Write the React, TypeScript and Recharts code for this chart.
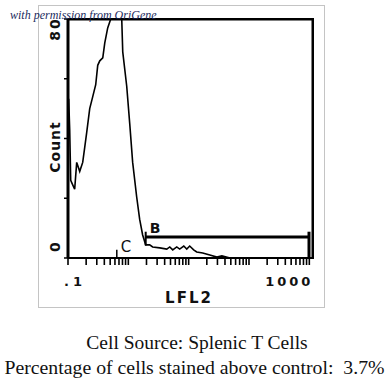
import React from 'react';
import { LineChart, Line, XAxis, YAxis, ReferenceLine } from 'recharts';

// LFL2 channel value (log scale) and event count of the histogram
const lfl2 = [0.1, 0.1027, 0.1067, 0.1109, 0.1197, 0.129, 0.1394, 0.1564, 0.1753, 0.1893, 0.204, 0.2291, 0.2571, 0.288, 0.311, 0.3362, 0.377, 0.407, 0.455, 0.511, 0.7776, 0.808, 0.9405, 1.055, 1.18, 1.374, 1.54, 1.727, 1.94, 2.26, 2.53, 3.32, 4.34, 4.86, 5.45, 6.35, 7.1, 8.3, 9.3, 10.4, 12.1, 13.6, 17.1, 22.4, 29.4, 35.6, 48.4, 1000];
const counts = [53, 53, 43, 26, 24.5, 23, 32, 29, 32, 37, 42, 50, 54, 58, 64.5, 66, 67, 72, 77, 80, 80, 69, 57.5, 45, 32, 20.5, 13, 7.7, 4.4, 4.4, 3.7, 3.4, 3, 3.7, 2.7, 3.7, 3, 4, 3, 4, 2.7, 2, 1.7, 1, 0.3, 0.7, 0, 0];

// Marker gates
const gateBStart = 1.94;
const gateBEnd = 988;
const gateBLevel = 7.06;
const gateC = 0.644;

// Axis ranges and ticks
const xMin = 0.1;
const xMax = 1151;
const yMax = 80;
const xTicks = [0.1, 0.2, 0.3, 0.4, 0.5, 0.6, 0.7, 0.8, 0.9, 1, 2, 3, 4, 5, 6, 7, 8, 9, 10, 20, 30, 40, 50, 60, 70, 80, 90, 100, 200, 300, 400, 500, 600, 700, 800, 900, 1000];
const xTickLabels: Record<string, string> = { '0.1': '.1', '1000': '1000' };
const yTicks = [0, 20, 40, 60, 80];
const yTickLabels: Record<string, string> = { '0': '0', '80': '80' };

const data = lfl2.map((x, i) => ({ x, count: counts[i] }));
const gateBData = [
  { x: gateBStart, count: gateBLevel },
  { x: gateBEnd, count: gateBLevel },
];
const frameData = [
  { x: xMin, count: yMax },
  { x: xMax, count: yMax },
  { x: xMax, count: 0 },
];

const labelFont = 'DejaVu Sans, Verdana, sans-serif';

const XTick = (props: any) => {
  const { x, y, payload } = props;
  const key = String(payload.value);
  const label = xTickLabels[key];
  return (
    <g>
      <line x1={x} x2={x} y1={y} y2={y + 7} stroke="#000" strokeWidth={1.6} />
      {label && (
        <text
          x={key === '1000' ? x + 4 : x - 4}
          y={y + 28}
          textAnchor={key === '1000' ? 'end' : 'start'}
          fontFamily={labelFont}
          fontWeight="bold"
          fontSize={13}
          letterSpacing={key === '1000' ? 3 : 4}
          fill="#111"
        >
          {label}
        </text>
      )}
    </g>
  );
};

const YTick = (props: any) => {
  const { y, payload } = props;
  const key = String(payload.value);
  const label = yTickLabels[key];
  const cy = key === '80' ? y + 10 : y - 12;
  return (
    <g>
      <line x1={64} x2={68} y1={y} y2={y} stroke="#000" strokeWidth={1.5} />
      {label && (
        <text
          x={60}
          y={cy}
          transform={`rotate(-90 60 ${cy})`}
          textAnchor="middle"
          fontFamily={labelFont}
          fontWeight="bold"
          fontSize={14}
          letterSpacing={2}
          fill="#111"
        >
          {label}
        </text>
      )}
    </g>
  );
};

export default function App() {
  return (
    <div
      style={{
        position: 'absolute',
        left: 0,
        top: 0,
        width: 391,
        height: 384,
        background: '#fff',
        overflow: 'hidden',
      }}
    >
      <div
        style={{
          position: 'absolute',
          left: 38,
          top: 5,
          width: 287,
          height: 303,
          border: '1px solid #c4c4c4',
          boxSizing: 'border-box',
        }}
      />
      <div style={{ position: 'absolute', left: 0, top: 0 }}>
        <LineChart
          width={391}
          height={310}
          data={data}
          margin={{ top: 19, right: 78, bottom: 22, left: 38 }}
        >
          <XAxis
            dataKey="x"
            type="number"
            scale="log"
            domain={[xMin, xMax]}
            allowDataOverflow
            ticks={xTicks}
            interval={0}
            tick={<XTick />}
            tickLine={false}
            tickSize={0}
            tickMargin={0}
            height={30}
            axisLine={{ stroke: '#000', strokeWidth: 2 }}
          />
          <YAxis
            type="number"
            domain={[0, yMax]}
            allowDataOverflow
            ticks={yTicks}
            interval={0}
            tick={<YTick />}
            tickLine={false}
            tickSize={0}
            tickMargin={0}
            width={30}
            axisLine={{ stroke: '#000', strokeWidth: 3 }}
          />
          <Line
            data={frameData}
            type="linear"
            dataKey="count"
            stroke="#000"
            strokeWidth={3}
            dot={false}
            isAnimationActive={false}
          />
          <Line
            type="linear"
            dataKey="count"
            stroke="#000"
            strokeWidth={1.6}
            dot={false}
            isAnimationActive={false}
          />
          <Line
            data={gateBData}
            type="linear"
            dataKey="count"
            stroke="#000"
            strokeWidth={3}
            dot={false}
            isAnimationActive={false}
          />
          <ReferenceLine
            segment={[
              { x: gateBStart, y: 4.2 },
              { x: gateBStart, y: 8.8 },
            ]}
            stroke="#000"
            strokeWidth={2}
            ifOverflow="visible"
          />
          <ReferenceLine
            segment={[
              { x: gateBEnd, y: 0 },
              { x: gateBEnd, y: 8.8 },
            ]}
            stroke="#000"
            strokeWidth={3}
            ifOverflow="visible"
          />
          <ReferenceLine
            segment={[
              { x: gateC, y: 0 },
              { x: gateC, y: 2.8 },
            ]}
            stroke="#000"
            strokeWidth={1.5}
            ifOverflow="visible"
          />
        </LineChart>
      </div>
      {/* plot frame: top and right edges (overlay) */}
      <div
        style={{
          position: 'absolute',
          zIndex: 5,
          left: 68,
          top: 18,
          width: 246,
          height: 241,
          borderTop: '2px solid #000',
          borderRight: '1.5px solid #000',
          boxSizing: 'border-box',
          pointerEvents: 'none',
        }}
      />
      {/* Axis titles and marker labels */}
      <div
        style={{
          position: 'absolute',
          left: 55,
          top: 147,
          transform: 'translate(-50%, -50%) rotate(-90deg)',
          fontFamily: labelFont,
          fontWeight: 'bold',
          fontSize: 14,
          letterSpacing: 1,
          color: '#111',
          whiteSpace: 'nowrap',
          lineHeight: 1,
        }}
      >
        Count
      </div>
      <div
        style={{
          position: 'absolute',
          left: 189,
          top: 298,
          transform: 'translate(-50%, -50%)',
          fontFamily: labelFont,
          fontWeight: 'bold',
          fontSize: 15,
          letterSpacing: 2,
          color: '#111',
          whiteSpace: 'nowrap',
          lineHeight: 1,
        }}
      >
        LFL2
      </div>
      <div
        style={{
          position: 'absolute',
          left: 155,
          top: 228,
          transform: 'translate(-50%, -50%)',
          fontFamily: labelFont,
          fontWeight: 'bold',
          fontSize: 14,
          color: '#111',
          lineHeight: 1,
        }}
      >
        B
      </div>
      <div
        style={{
          position: 'absolute',
          left: 126,
          top: 247,
          transform: 'translate(-50%, -50%)',
          fontFamily: labelFont,
          fontSize: 15,
          color: '#111',
          lineHeight: 1,
        }}
      >
        C
      </div>
      {/* Watermark */}
      <div
        style={{
          position: 'absolute',
          zIndex: 6,
          left: 10,
          top: 9,
          fontFamily: 'Liberation Serif, serif',
          fontStyle: 'italic',
          fontSize: 12,
          color: '#1c2b5e',
          whiteSpace: 'nowrap',
          lineHeight: 1,
        }}
      >
        with permission from OriGene
      </div>
      {/* Caption */}
      <div
        style={{
          position: 'absolute',
          left: 0,
          width: 394,
          top: 331,
          textAlign: 'center',
          fontFamily: 'Liberation Serif, Times New Roman, serif',
          fontSize: 19.5,
          color: '#111',
          whiteSpace: 'pre',
          lineHeight: '24px',
        }}
      >
        Cell Source: Splenic T Cells
      </div>
      <div
        style={{
          position: 'absolute',
          left: 0,
          width: 389,
          top: 355,
          textAlign: 'center',
          fontFamily: 'Liberation Serif, Times New Roman, serif',
          fontSize: 19.8,
          color: '#111',
          whiteSpace: 'pre',
          lineHeight: '24px',
        }}
      >
        {'Percentage of cells stained above control:  3.7%'}
      </div>
    </div>
  );
}
